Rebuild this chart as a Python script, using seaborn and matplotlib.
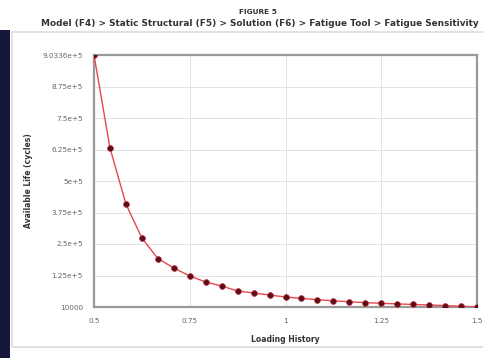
import matplotlib
matplotlib.use("Agg")
import matplotlib.pyplot as plt
import numpy as np
import pandas as pd
import seaborn as sns
from matplotlib.patches import Rectangle

# ---- data ----
loading = [0.5, 0.5417, 0.5833, 0.625, 0.6667, 0.7083, 0.75, 0.7917, 0.8333,
           0.875, 0.9167, 0.9583, 1.0, 1.0417, 1.0833, 1.125, 1.1667, 1.2083,
           1.25, 1.2917, 1.3333, 1.375, 1.4167, 1.4583, 1.5]
life = [903360, 573700, 375100, 254600, 181900, 148300, 119900, 98600, 84400,
        66700, 59600, 52500, 45400, 40500, 36000, 32000, 28500, 25500,
        23000, 21000, 19000, 17000, 15000, 12500, 10000]

y_min, y_max = 10000, 903360
ytick_labels = ["10000", "1.25e+5", "2.5e+5", "3.75e+5", "5e+5",
                "6.25e+5", "7.5e+5", "8.75e+5", "9.0336e+5"]
xticks = [0.5, 0.75, 1.0, 1.25, 1.5]
xtick_labels = ["0.5", "0.75", "1", "1.25", "1.5"]

df = pd.DataFrame({"Loading History": loading, "Available Life": life})

sns.set_theme(style="white")
plt.rcParams["font.family"] = ["DejaVu Sans"]

fig = plt.figure(figsize=(4.83, 3.58), dpi=100)
fig.patch.set_facecolor("white")

# screenshot frame: dark strip on the left and the light panel border
fig.add_artist(Rectangle((0, 0), 10 / 483, 328 / 358, transform=fig.transFigure,
                         facecolor="#15163a", edgecolor="none", zorder=-10))
fig.add_artist(Rectangle((12 / 483, 11 / 358), 475 / 483, 315 / 358,
                         transform=fig.transFigure, facecolor="white",
                         edgecolor="#dcdcdc", linewidth=1.2, zorder=-10))

ax = fig.add_axes([94 / 483, 51 / 358, 383 / 483, 252 / 358])
ax.set_facecolor("white")
sns.lineplot(data=df, x="Loading History", y="Available Life", ax=ax,
             color="#e5484d", linewidth=1.0, marker="o", markersize=4.2,
             markerfacecolor="#5c0f1a", markeredgecolor="#c0303a",
             markeredgewidth=0.5, zorder=3)

ax.set_xlim(0.5, 1.5)
ax.set_ylim(y_min, y_max)
ax.set_xticks(xticks)
ax.set_xticklabels(xtick_labels)
ax.set_yticks(np.linspace(y_min, y_max, len(ytick_labels)))
ax.set_yticklabels(ytick_labels)
ax.tick_params(axis="both", labelsize=5.2, colors="#555555", length=2,
               width=0.6, pad=6)
for lbl in ax.get_xticklabels() + ax.get_yticklabels():
    lbl.set_color("#666666")

ax.grid(True, color="#e2e2e2", linewidth=0.7)
for side in ["left", "bottom", "top", "right"]:
    ax.spines[side].set_visible(True)
    ax.spines[side].set_color("#9a9a9a")
    ax.spines[side].set_linewidth(1.6)

ax.set_xlabel("Loading History", fontsize=5.5, fontweight="bold",
              color="#333333", labelpad=8)
ax.set_ylabel("Available Life (cycles)", fontsize=5.5, fontweight="bold",
              color="#333333", labelpad=7)

fig.text(258 / 483, 1 - 12 / 358, "FIGURE 5", ha="center", va="center",
         fontsize=5.3, fontweight="bold", color="#333333")
fig.text(260 / 483, 1 - 23 / 358,
         "Model (F4) > Static Structural (F5) > Solution (F6) > Fatigue Tool > Fatigue Sensitivity",
         ha="center", va="center", fontsize=6.4, fontweight="bold", color="#333333")

fig.savefig("out.png", dpi=100, facecolor=fig.get_facecolor())
